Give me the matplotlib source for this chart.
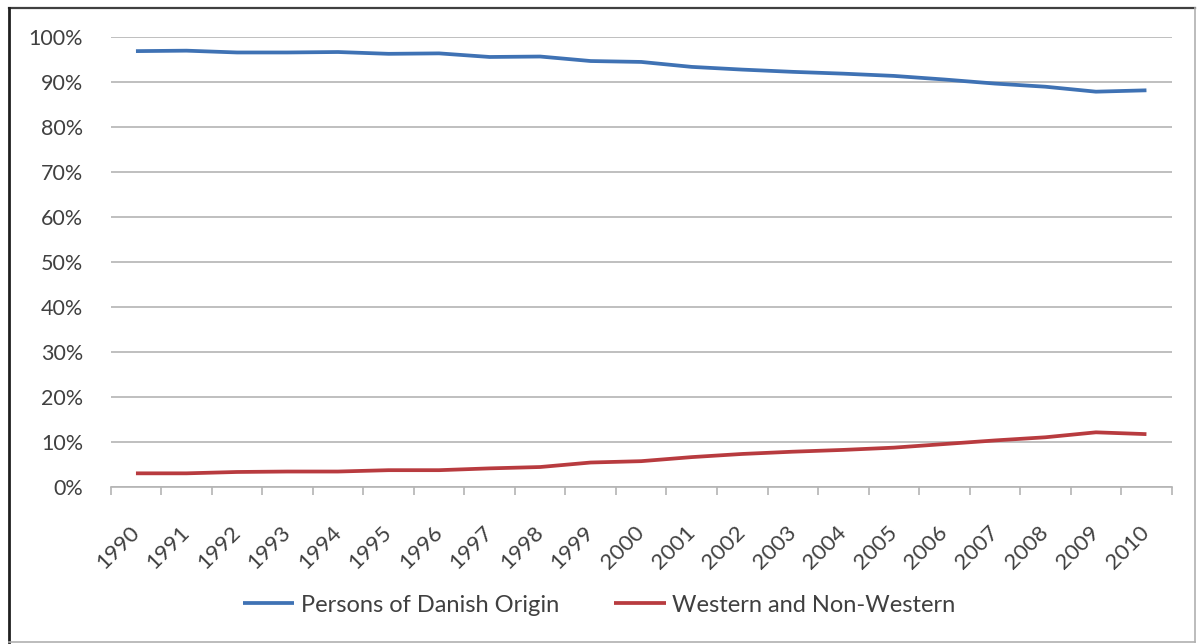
import matplotlib
matplotlib.use("Agg")
import matplotlib.pyplot as plt
from matplotlib.lines import Line2D
from matplotlib.ticker import FixedLocator, FuncFormatter

# Share of population by origin, 1990-2010 (%)
years = [str(y) for y in range(1990, 2011)]
danish_origin = [96.8, 96.9, 96.5, 96.5, 96.6, 96.2, 96.3, 95.5, 95.6, 94.6, 94.4,
                 93.3, 92.7, 92.2, 91.8, 91.3, 90.5, 89.6, 88.9, 87.8, 88.1]
western_non_western = [3.1, 3.1, 3.4, 3.5, 3.5, 3.8, 3.8, 4.2, 4.5, 5.5, 5.8,
                       6.7, 7.4, 7.9, 8.3, 8.8, 9.6, 10.4, 11.1, 12.2, 11.8]
series_names = ["Persons of Danish Origin", "Western and Non-Western"]
y_ticks = list(range(0, 101, 10))

BLUE = "#3f72b4"
RED = "#b83b3f"
TEXT = "#404040"
GRID = "#b4b4b4"

plt.rcParams["font.family"] = ["Lato", "DejaVu Sans"]

fig = plt.figure(figsize=(11.98, 6.44), dpi=100)
W, H = 1198, 644
ax = fig.add_axes([110.7 / W, 1 - 487.3 / H, (1171.7 - 110.7) / W, (487.3 - 36.7) / H])

x = list(range(len(years)))
ax.plot(x, danish_origin, color=BLUE, lw=2.7, solid_capstyle="butt", solid_joinstyle="round",
        label=series_names[0], zorder=3)
ax.plot(x, western_non_western, color=RED, lw=2.7, solid_capstyle="butt", solid_joinstyle="round",
        label=series_names[1], zorder=3)

ax.set_xlim(-0.5, len(years) - 0.5)
ax.set_ylim(0, 100)

ax.set_yticks(y_ticks)
ax.yaxis.set_major_formatter(FuncFormatter(lambda v, _: f"{v:.0f}%"))
ax.yaxis.grid(True, color=GRID, lw=1.2)
ax.tick_params(axis="y", length=0, pad=20, labelsize=15.5, labelcolor=TEXT)

ax.set_xticks(x)
ax.set_xticklabels(years, rotation=45, ha="right", rotation_mode="anchor", va="center")
ax.tick_params(axis="x", which="major", length=0, pad=30, labelsize=16, labelcolor=TEXT)
ax.xaxis.set_minor_locator(FixedLocator([i - 0.5 for i in range(len(years) + 1)]))
ax.tick_params(axis="x", which="minor", length=6, width=1.2, color=GRID, direction="out")

for side in ("left", "right", "top"):
    ax.spines[side].set_visible(False)
ax.spines["bottom"].set_color(GRID)
ax.spines["bottom"].set_linewidth(1.2)
ax.set_axisbelow(True)

leg = fig.legend(loc="center", bbox_to_anchor=(0.5, 1 - 605 / H), ncol=2, frameon=False,
                 fontsize=17, handlelength=2.2, handletextpad=0.28, columnspacing=2.3)
for t in leg.get_texts():
    t.set_color(TEXT)

# Outer chart border: dark top/left, lighter right/bottom
def border(x0, y0, x1, y1, color, lw):
    fig.add_artist(Line2D([x0 / W, x1 / W], [1 - y0 / H, 1 - y1 / H],
                          transform=fig.transFigure, color=color, lw=lw))

border(9, 8, 1195, 8, "#404040", 1.6)
border(9, 8, 9, 642, "#202020", 2.0)
border(1195, 8, 1195, 642, "#b0b0b0", 1.2)
border(9, 642, 1195, 642, "#b0b0b0", 1.2)

fig.savefig("out.png", dpi=100)
